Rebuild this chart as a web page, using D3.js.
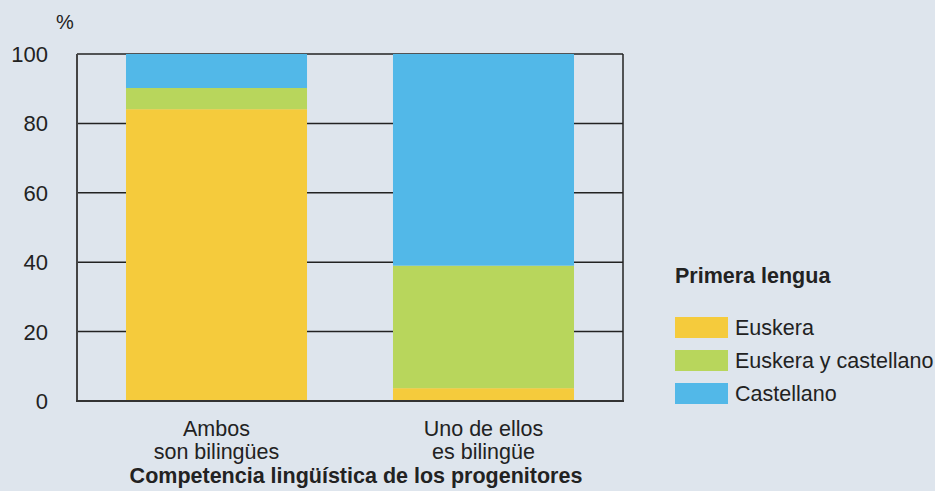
<!DOCTYPE html>
<html lang="es">
<head>
<meta charset="UTF-8">
<title>Primera lengua según competencia lingüística de los progenitores</title>
<script src="https://d3js.org/d3.v7.min.js"></script>
<style>
    body { margin: 0; background: #dee5ed; }
    svg { display: block; font-family: "Liberation Sans", Arial, Helvetica, sans-serif; }
    .grid line { stroke: #222; stroke-width: 1.5; }
    .tick-label { font-size: 22px; fill: #222; }
    .cat-label { font-size: 21.5px; fill: #222; }
</style>
</head>
<body>
<svg id="chart" width="935" height="491"></svg>
<script>
    const categories = [["Ambos", "son bilingües"], ["Uno de ellos", "es bilingüe"]];
    const seriesNames = ["Euskera", "Euskera y castellano", "Castellano"];
    const euskera = [84.1, 3.7];
    const euskeraCastellano = [6.1, 35.3];
    const castellano = [9.8, 61.0];
    const yTicks = [0, 20, 40, 60, 80, 100];
    const colors = ["#f5cb3c", "#b8d65c", "#52b8e8"];

    const svg = d3.select("#chart");
    const plotLeft = 77, plotRight = 623, plotTop = 54, plotBottom = 401;

    const rows = categories.map((c, i) => ({
        cat: i,
        "Euskera": euskera[i],
        "Euskera y castellano": euskeraCastellano[i],
        "Castellano": castellano[i]
    }));

    const x = d3.scaleBand()
        .domain(d3.range(categories.length))
        .range([plotLeft, plotRight])
        .paddingInner(0.322)
        .paddingOuter(0.1835);

    const y = d3.scaleLinear().domain([0, 100]).range([plotBottom, plotTop]);

    // grid lines
    svg.append("g").attr("class", "grid")
        .selectAll("line")
        .data(yTicks.filter(t => t > 0))
        .join("line")
        .attr("x1", plotLeft).attr("x2", plotRight)
        .attr("y1", d => y(d)).attr("y2", d => y(d));

    // stacked bars
    const stack = d3.stack().keys(seriesNames)(rows);
    svg.append("g")
        .selectAll("g")
        .data(stack)
        .join("g")
        .attr("fill", (d, i) => colors[i])
        .selectAll("rect")
        .data(d => d)
        .join("rect")
        .attr("x", d => x(d.data.cat))
        .attr("width", x.bandwidth())
        .attr("y", d => y(d[1]))
        .attr("height", d => y(d[0]) - y(d[1]));

    // frame
    svg.append("line").attr("x1", plotLeft).attr("x2", plotLeft).attr("y1", plotTop).attr("y2", plotBottom)
        .attr("stroke", "#444").attr("stroke-width", 2);
    svg.append("line").attr("x1", plotRight).attr("x2", plotRight).attr("y1", plotTop).attr("y2", plotBottom)
        .attr("stroke", "#222").attr("stroke-width", 1.5);
    svg.append("line").attr("x1", plotLeft - 1).attr("x2", plotRight + 1).attr("y1", plotBottom).attr("y2", plotBottom)
        .attr("stroke", "#333").attr("stroke-width", 2);

    // y tick labels
    svg.append("g")
        .selectAll("text")
        .data(yTicks)
        .join("text")
        .attr("class", "tick-label")
        .attr("x", 48)
        .attr("y", d => y(d) + 8)
        .attr("text-anchor", "end")
        .text(d => d);

    svg.append("text").attr("x", 56).attr("y", 29)
        .attr("font-size", 20).attr("fill", "#222").text("%");

    // category labels
    categories.forEach((lines, i) => {
        const cx = x(i) + x.bandwidth() / 2;
        lines.forEach((t, j) => {
            svg.append("text").attr("class", "cat-label")
                .attr("x", cx).attr("y", 436 + j * 23)
                .attr("text-anchor", "middle").text(t);
        });
    });

    svg.append("text")
        .attr("x", 356).attr("y", 483)
        .attr("text-anchor", "middle")
        .attr("font-size", 21.5).attr("font-weight", "bold").attr("fill", "#222")
        .text("Competencia lingüística de los progenitores");

    // legend
    const legend = svg.append("g").attr("transform", "translate(675,0)");
    legend.append("text").attr("x", 0).attr("y", 283)
        .attr("font-size", 21.5).attr("font-weight", "bold").attr("fill", "#222")
        .text("Primera lengua");
    seriesNames.forEach((name, i) => {
        legend.append("rect").attr("x", 0).attr("y", 317 + i * 33)
            .attr("width", 53).attr("height", 21).attr("fill", colors[i]);
        legend.append("text").attr("x", 60).attr("y", 335 + i * 33)
            .attr("font-size", 21.5).attr("fill", "#222").text(name);
    });
</script>
</body>
</html>
